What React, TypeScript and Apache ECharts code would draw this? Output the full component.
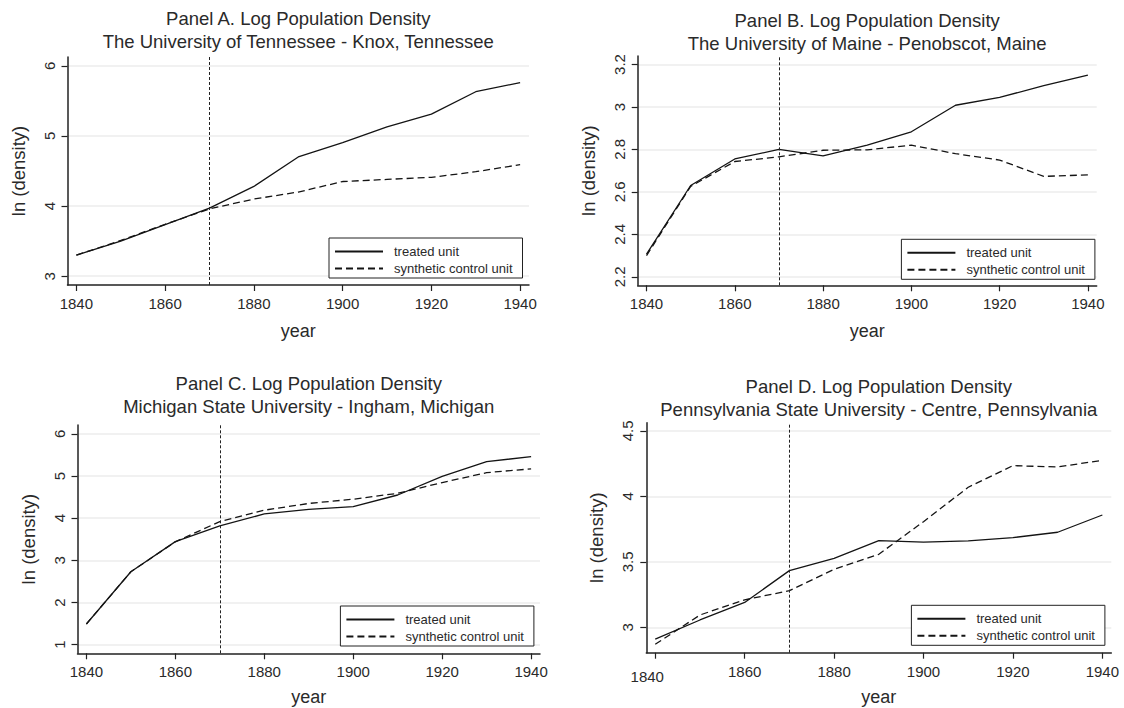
import React, { useEffect, useRef } from 'react';
import * as echarts from 'echarts';

// ---------- data ----------
const years = [1840, 1850, 1860, 1870, 1880, 1890, 1900, 1910, 1920, 1930, 1940];
const xTicks = [1840, 1860, 1880, 1900, 1920, 1940];
const treatmentYear = 1870;
const legendNames = ['treated unit', 'synthetic control unit'];

const titleLine1 = [
  'Panel A. Log Population Density',
  'Panel B. Log Population Density',
  'Panel C. Log Population Density',
  'Panel D. Log Population Density',
];
const titleLine2 = [
  'The University of Tennessee - Knox, Tennessee',
  'The University of Maine - Penobscot, Maine',
  'Michigan State University - Ingham, Michigan',
  'Pennsylvania State University - Centre, Pennsylvania',
];

const treatedA = [3.30, 3.50, 3.735, 3.97, 4.28, 4.70, 4.905, 5.13, 5.31, 5.63, 5.76];
const synthA = [3.30, 3.51, 3.74, 3.96, 4.10, 4.20, 4.35, 4.38, 4.41, 4.49, 4.59];
const yTicksA = [3, 4, 5, 6];

const treatedB = [2.307, 2.63, 2.755, 2.80, 2.77, 2.82, 2.883, 3.008, 3.045, 3.10, 3.15];
const synthB = [2.30, 2.626, 2.743, 2.765, 2.796, 2.798, 2.82, 2.78, 2.75, 2.673, 2.68];
const yTicksB = [2.2, 2.4, 2.6, 2.8, 3, 3.2];

const treatedC = [1.49, 2.73, 3.445, 3.82, 4.10, 4.21, 4.275, 4.55, 4.99, 5.34, 5.46];
const synthC = [1.49, 2.73, 3.44, 3.92, 4.19, 4.35, 4.45, 4.59, 4.845, 5.08, 5.17];
const yTicksC = [1, 2, 3, 4, 5, 6];

const treatedD = [2.91, 3.056, 3.19, 3.433, 3.527, 3.662, 3.65, 3.66, 3.685, 3.726, 3.858];
const synthD = [2.87, 3.094, 3.21, 3.28, 3.443, 3.558, 3.807, 4.07, 4.235, 4.225, 4.276];
const yTicksD = [3, 3.5, 4, 4.5];

// ---------- layout / style ----------
const FONT = '"Liberation Sans", Arial, Helvetica, sans-serif';
const TEXT = '#2a2a2a';
const LINE = '#141414';

const panels = [
  {
    treated: treatedA, synth: synthA, yTicks: yTicksA, yMin: 2.875, yMax: 6.125,
    grid: { left: 67.5, top: 57, width: 461.5, height: 228 },
    titleTop: 7, legendPos: { left: 329, top: 238 }, xNameGap: 37, oddFirst: false,
  },
  {
    treated: treatedB, synth: synthB, yTicks: yTicksB, yMin: 2.16, yMax: 3.24,
    grid: { left: 637.7, top: 56, width: 459, height: 229.3 },
    titleTop: 9, legendPos: { left: 901.4, top: 239.3 }, xNameGap: 37, oddFirst: false,
  },
  {
    treated: treatedC, synth: synthC, yTicks: yTicksC, yMin: 0.796, yMax: 6.21,
    grid: { left: 77.5, top: 425, width: 462.5, height: 228.3 },
    titleTop: 372, legendPos: { left: 340.4, top: 606 }, xNameGap: 35, oddFirst: false,
  },
  {
    treated: treatedD, synth: synthD, yTicks: yTicksD, yMin: 2.806, yMax: 4.563,
    grid: { left: 646.3, top: 422.7, width: 465, height: 230 },
    titleTop: 374.5, legendPos: { left: 911.4, top: 605.3 }, xNameGap: 35, oddFirst: true,
  },
];

function buildOption() {
  return {
    animation: false,
    backgroundColor: '#ffffff',
    title: panels.map((p, i) => ({
      text: titleLine1[i] + '\n' + titleLine2[i],
      left: p.grid.left + p.grid.width / 2,
      top: p.titleTop,
      textAlign: 'center',
      padding: 0,
      textStyle: { fontSize: 18.5, fontWeight: 'normal', color: TEXT, fontFamily: FONT, lineHeight: 23 },
    })),
    legend: panels.map((p) => ({
      data: legendNames,
      orient: 'vertical',
      left: p.legendPos.left,
      top: p.legendPos.top,
      itemWidth: 48,
      itemHeight: 14,
      itemGap: 4,
      padding: [7, 10, 3, 5],
      borderColor: '#222',
      borderWidth: 1,
      backgroundColor: '#fff',
      selectedMode: false,
      itemStyle: { opacity: 0, color: 'rgba(0,0,0,0)', borderColor: 'rgba(0,0,0,0)', borderWidth: 0 },
      textStyle: { fontSize: 13, color: TEXT, fontFamily: FONT, padding: [0, 0, 0, 6] },
    })),
    grid: panels.map((p) => ({ ...p.grid, containLabel: false })),
    xAxis: panels.map((p, i) => ({
      type: 'value',
      gridIndex: i,
      min: 1838,
      max: 1942,
      name: 'year',
      nameLocation: 'middle',
      nameGap: p.xNameGap,
      nameTextStyle: { fontSize: 18, color: TEXT, fontFamily: FONT },
      axisLine: { show: true, onZero: false, lineStyle: { color: '#222', width: 1.5 } },
      axisTick: { show: true, length: 6, customValues: xTicks, lineStyle: { color: '#222', width: 1.2 } },
      axisLabel: {
        customValues: xTicks,
        fontSize: 15,
        color: TEXT,
        fontFamily: FONT,
        margin: 11,
        formatter: (v: number) => (p.oddFirst && v === 1840 ? '{low|' + v + '}' : String(v)),
        rich: { low: { fontSize: 15, color: TEXT, fontFamily: FONT, padding: [5, 16, 0, 0] } },
      },
      splitLine: { show: false },
    })),
    yAxis: panels.map((p, i) => ({
      type: 'value',
      gridIndex: i,
      min: p.yMin,
      max: p.yMax,
      name: 'ln (density)',
      nameLocation: 'middle',
      nameGap: 40,
      nameRotate: 90,
      nameTextStyle: { fontSize: 18.5, color: TEXT, fontFamily: FONT },
      axisLine: { show: true, onZero: false, lineStyle: { color: '#222', width: 1.5 } },
      axisTick: { show: true, length: 6, customValues: p.yTicks, lineStyle: { color: '#222', width: 1.2 } },
      axisLabel: { customValues: p.yTicks, rotate: 90, fontSize: 15, color: TEXT, fontFamily: FONT, margin: 11 },
      splitLine: { show: true, lineStyle: { color: '#ececec', width: 1.5 } },
    })),
    series: panels.flatMap((p, i) => [
      {
        type: 'line',
        name: legendNames[0],
        xAxisIndex: i,
        yAxisIndex: i,
        data: years.map((y, k) => [y, p.treated[k]]),
        symbol: 'none',
        lineStyle: { color: LINE, width: 1.3 },
        itemStyle: { color: LINE },
        emphasis: { disabled: true },
        markLine: {
          silent: true,
          symbol: ['none', 'none'],
          label: { show: false },
          emphasis: { disabled: true },
          lineStyle: { color: '#222', type: [3, 2], width: 1 },
          data: [{ xAxis: treatmentYear }],
        },
      },
      {
        type: 'line',
        name: legendNames[1],
        xAxisIndex: i,
        yAxisIndex: i,
        data: years.map((y, k) => [y, p.synth[k]]),
        symbol: 'none',
        lineStyle: { color: LINE, width: 1.3, type: [7, 4] },
        itemStyle: { color: LINE },
        emphasis: { disabled: true },
      },
    ]),
  };
}

export default function App() {
  const ref = useRef<HTMLDivElement>(null);
  useEffect(() => {
    if (!ref.current) return;
    const chart = echarts.init(ref.current, null, { renderer: 'svg' });
    chart.setOption(buildOption() as any);
    return () => chart.dispose();
  }, []);
  return (
    <div
      ref={ref}
      style={{ position: 'fixed', left: 0, top: 0, width: 1124, height: 708, background: '#fff' }}
    />
  );
}
